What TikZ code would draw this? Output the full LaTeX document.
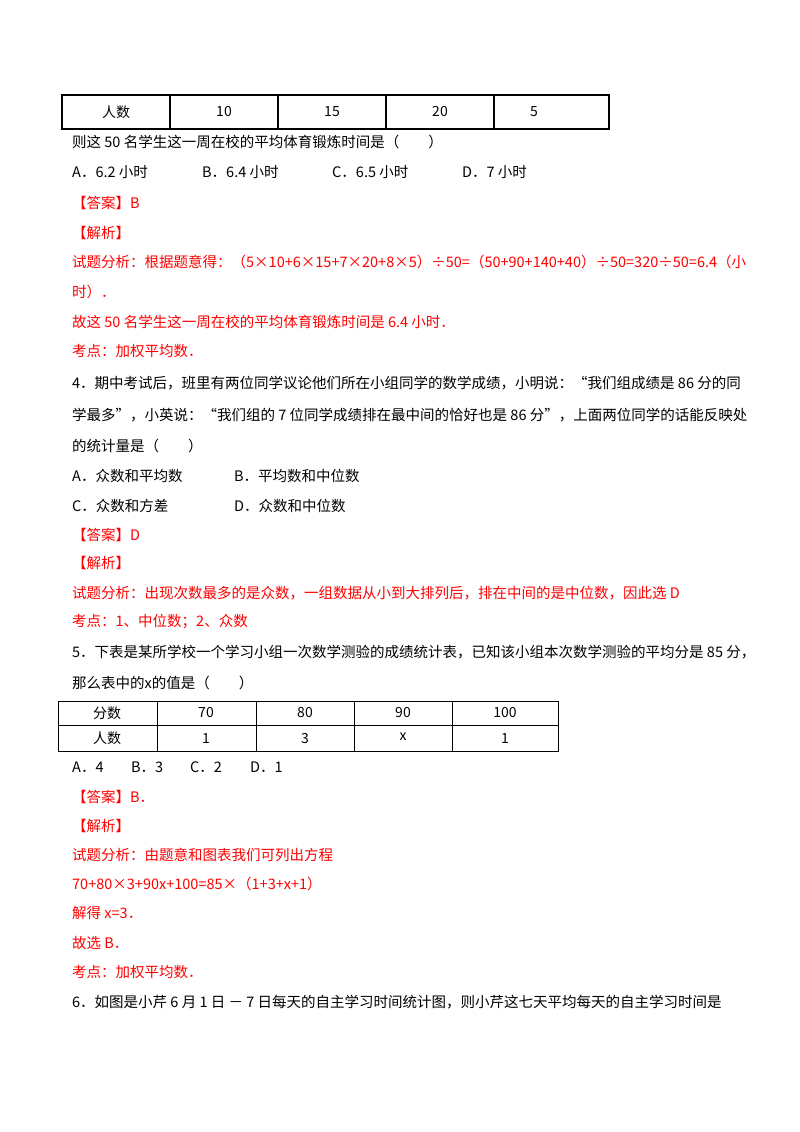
\documentclass[tikz,border=0pt]{standalone}
\usepackage{fontspec}
\setmainfont{Noto Sans CJK SC}
\begin{document}
\begin{tikzpicture}[x=1pt,y=-1pt,
  t/.style={anchor=west,inner sep=0pt,font=\fontsize{14.5}{16}\selectfont},
  r/.style={t,text=red},
  c/.style={inner sep=0pt,font=\fontsize{14}{16}\selectfont}]
\useasboundingbox[fill=white] (0,0) rectangle (800,1132);
% table 1
\draw[line width=1.2pt] (62,95) rectangle (609,129);
\foreach \x in {170,278,386,494} \draw[line width=1.2pt] (\x,95) -- (\x,129);
\node[c] (t1a) at (116,112) {人数};
\node[c] (t1b) at (224,112) {10};
\node[c] (t1c) at (332,112) {15};
\node[c] (t1d) at (440,112) {20};
\node[c] (t1e) at (534,112) {5};
\node[t] (l1) at (72,142) {则这 50 名学生这一周在校的平均体育锻炼时间是（　　）};
\node[t] (l2a) at (72,172) {A．6.2 小时};
\node[t] (l2b) at (202,172) {B．6.4 小时};
\node[t] (l2c) at (332,172) {C．6.5 小时};
\node[t] (l2d) at (462,172) {D．7 小时};
\node[r] (l3) at (72,203) {【答案】B};
\node[r] (l4) at (72,233) {【解析】};
\node[r] (l5) at (72,262) {试题分析：根据题意得：（5×10+6×15+7×20+8×5）÷50=（50+90+140+40）÷50=320÷50=6.4（小};
\node[r] (l6) at (72,292) {时）．};
\node[r] (l7) at (72,322) {故这 50 名学生这一周在校的平均体育锻炼时间是 6.4 小时．};
\node[r] (l8) at (72,351) {考点：加权平均数．};
\node[t] (l9) at (72,383) {4．期中考试后，班里有两位同学议论他们所在小组同学的数学成绩，小明说：“我们组成绩是 86 分的同};
\node[t] (l10) at (72,415) {学最多”，小英说：“我们组的 7 位同学成绩排在最中间的恰好也是 86 分”，上面两位同学的话能反映处};
\node[t] (l11) at (72,446) {的统计量是（　　）};
\node[t] (l12a) at (72,476) {A．众数和平均数};
\node[t] (l12b) at (234,476) {B．平均数和中位数};
\node[t] (l13a) at (72,506) {C．众数和方差};
\node[t] (l13b) at (234,506) {D．众数和中位数};
\node[r] (l14) at (72,535) {【答案】D};
\node[r] (l15) at (72,563) {【解析】};
\node[r] (l16) at (72,593) {试题分析：出现次数最多的是众数，一组数据从小到大排列后，排在中间的是中位数，因此选 D};
\node[r] (l17) at (72,622) {考点：1、中位数；2、众数};
\node[t] (l18) at (72,652) {5．下表是某所学校一个学习小组一次数学测验的成绩统计表，已知该小组本次数学测验的平均分是 85 分，};
\node[t] (l19) at (72,683) {那么表中的\textit{x}的值是（　　）};
% table 2
\draw[line width=1pt] (58,701) rectangle (558,751);
\draw[line width=1pt] (58,725) -- (558,725);
\foreach \x in {157,256,354,452} \draw[line width=1pt] (\x,701) -- (\x,751);
\node[c] (u1) at (107,713) {分数};
\node[c] (u2) at (206,713) {70};
\node[c] (u3) at (305,713) {80};
\node[c] (u4) at (403,713) {90};
\node[c] (u5) at (505,713) {100};
\node[c] (v1) at (107,738) {人数};
\node[c] (v2) at (206,738) {1};
\node[c] (v3) at (305,738) {3};
\node[c] (v4) at (403,737) {\textit{x}};
\node[c] (v5) at (505,738) {1};
\node[t] (l20a) at (72,767) {A．4};
\node[t] (l20b) at (131,767) {B．3};
\node[t] (l20c) at (190,767) {C．2};
\node[t] (l20d) at (250,767) {D．1};
\node[r] (l21) at (72,797) {【答案】B．};
\node[r] (l22) at (72,826) {【解析】};
\node[r] (l23) at (72,855) {试题分析：由题意和图表我们可列出方程};
\node[r] (l24) at (72,884) {70+80×3+90x+100=85×（1+3+x+1）};
\node[r] (l25) at (72,913) {解得 x=3．};
\node[r] (l26) at (72,943) {故选 B．};
\node[r] (l27) at (72,972) {考点：加权平均数．};
\node[t] (l28) at (72,1002) {6．如图是小芹 6 月 1 日 － 7 日每天的自主学习时间统计图，则小芹这七天平均每天的自主学习时间是};
\end{tikzpicture}
\end{document}
